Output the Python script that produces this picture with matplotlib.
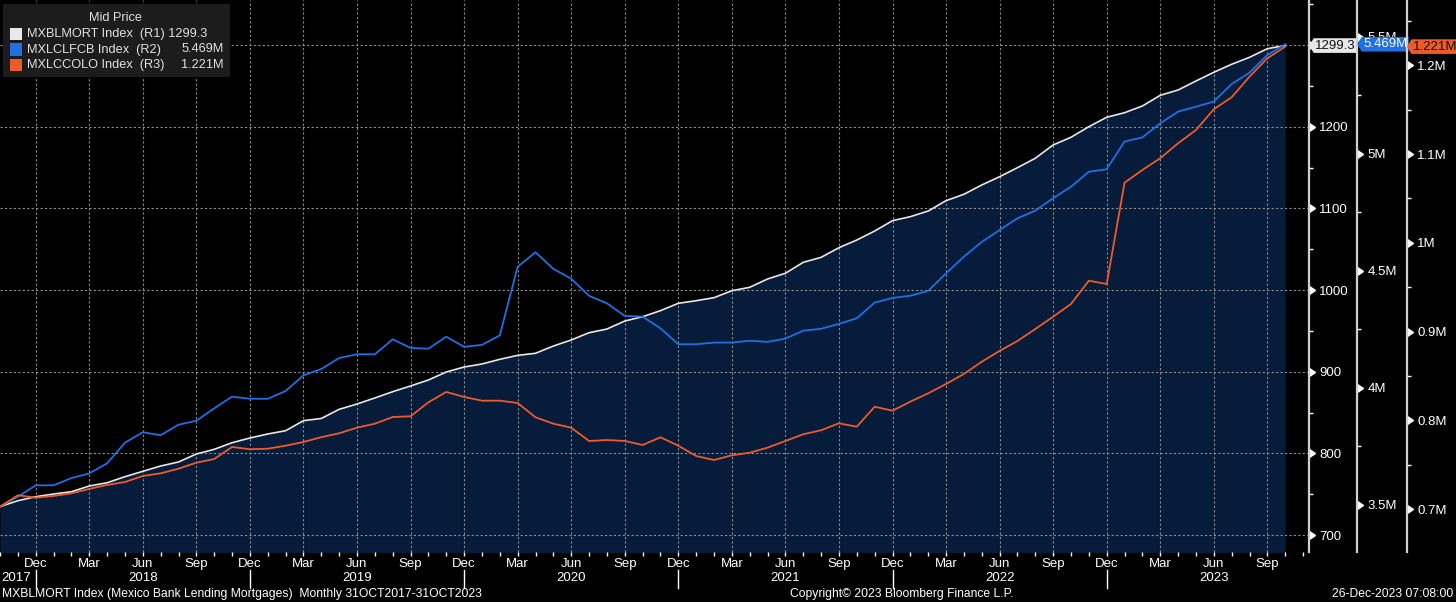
import matplotlib
matplotlib.use("Agg")
import matplotlib.pyplot as plt
import matplotlib.transforms as mtransforms
from matplotlib.patches import Rectangle
from matplotlib.path import Path
import pandas as pd

# Bloomberg-style dark terminal look
BG, FILL, GRIDC = "#000000", "#061c3a", "#8c8c8c"
WHITE, BLUE, ORANGE = "#e8e8e8", "#1f6fe5", "#ef5a29"
FONT = ["Liberation Sans", "DejaVu Sans"]
FS = 9
plt.rcParams.update({"font.family": FONT, "font.size": FS,
                     "text.color": "white", "xtick.color": "white",
                     "ytick.color": "white"})

W, H = 1456, 602

# monthly, 31OCT2017 - 31OCT2023
months = pd.period_range("2017-10", "2023-10", freq="M")

# MXBLMORT Index (R1)
mort = [734.7, 742.0, 746.9, 750.2, 753.0, 760.0, 764.0, 771.4, 778.0, 784.5,
        789.4, 799.2, 804.9, 813.0, 818.8, 823.7, 827.7, 840.0, 842.7, 853.9,
        860.4, 867.8, 875.5, 882.5, 889.8, 899.6, 905.7, 909.4, 915.1, 920.0,
        922.5, 931.4, 938.8, 947.7, 952.2, 962.0, 967.3, 974.7, 983.7, 986.9,
        990.6, 999.1, 1003.3, 1013.5, 1020.5, 1033.9, 1040.0, 1051.8, 1061.2, 1072.2,
        1084.9, 1089.8, 1096.7, 1109.4, 1117.2, 1128.6, 1138.7, 1149.8, 1161.3, 1177.6,
        1187.0, 1200.0, 1211.5, 1217.1, 1225.3, 1238.4, 1244.9, 1255.9, 1266.6, 1276.4,
        1284.9, 1295.5, 1299.3]

# MXLCLFCB Index (R2), millions
clfcb = [3.493, 3.535, 3.584, 3.584, 3.615, 3.635, 3.678, 3.766, 3.811, 3.798,
         3.843, 3.860, 3.913, 3.963, 3.954, 3.954, 3.987, 4.054, 4.081, 4.128,
         4.144, 4.144, 4.208, 4.171, 4.168, 4.219, 4.176, 4.184, 4.225, 4.518,
         4.580, 4.509, 4.467, 4.394, 4.362, 4.308, 4.305, 4.255, 4.187, 4.187,
         4.194, 4.194, 4.202, 4.197, 4.211, 4.245, 4.253, 4.274, 4.298, 4.365,
         4.385, 4.394, 4.415, 4.490, 4.561, 4.624, 4.675, 4.725, 4.758, 4.811,
         4.860, 4.924, 4.935, 5.053, 5.071, 5.131, 5.181, 5.202, 5.224, 5.299,
         5.347, 5.423, 5.469]

# MXLCCOLO Index (R3), millions
ccolo = [0.7029, 0.7158, 0.7131, 0.7150, 0.7180, 0.7229, 0.7274, 0.7307, 0.7375, 0.7405,
         0.7457, 0.7525, 0.7566, 0.7702, 0.7676, 0.7682, 0.7716, 0.7758, 0.7812, 0.7856,
         0.7919, 0.7964, 0.8039, 0.8047, 0.8205, 0.8321, 0.8265, 0.8223, 0.8223, 0.8197,
         0.8036, 0.7964, 0.7919, 0.7769, 0.7780, 0.7769, 0.7724, 0.7811, 0.7716, 0.7600,
         0.7555, 0.7608, 0.7637, 0.7694, 0.7769, 0.7845, 0.7890, 0.7968, 0.7930, 0.8155,
         0.8110, 0.8212, 0.8306, 0.8411, 0.8524, 0.8662, 0.8783, 0.8895, 0.9030, 0.9169,
         0.9312, 0.9574, 0.9537, 1.0678, 1.0821, 1.0953, 1.1122, 1.1271, 1.1505, 1.1640,
         1.1872, 1.2079, 1.221]

names = ["MXBLMORT Index", "MXLCLFCB Index", "MXLCCOLO Index"]
last_labels = ["1299.3", "5.469M", "1.221M"]

r1_major = [700, 800, 900, 1000, 1100, 1200, 1300]
r1_minor = [750, 850, 950, 1050, 1150, 1250, 1350]
r2_major = [3.5, 4.0, 4.5, 5.0, 5.5]
r2_minor = [3.75, 4.25, 4.75, 5.25]
r3_major = [0.7, 0.8, 0.9, 1.0, 1.1, 1.2]
r3_minor = [0.75, 0.85, 0.95, 1.05, 1.15, 1.25]

footer_left = "MXBLMORT Index (Mexico Bank Lending Mortgages)  Monthly 31OCT2017-31OCT2023"
footer_mid = "Copyright\u00a9 2023 Bloomberg Finance L.P."
footer_right = "26-Dec-2023 07:08:00"


def tag_box(x0, y0, width, height, mutation_size):
    """Value tag with a pointed left edge."""
    pad = mutation_size * 0.1
    x0, y0 = x0 - pad, y0 - pad
    x1, y1 = x0 + width + 2 * pad, y0 + height + 2 * pad
    tip = (y1 - y0) * 0.3
    return Path([(x0, y0), (x1, y0), (x1, y1), (x0, y1),
                 (x0 - tip, (y0 + y1) / 2), (x0, y0)], closed=True)


def style_right(axis, spine_pos, major, minor, fmt, lim):
    axis.set_ylim(*lim)
    for s in ("left", "top", "bottom"):
        axis.spines[s].set_visible(False)
    axis.spines["right"].set_position(("axes", spine_pos))
    axis.spines["right"].set_color("#d0d0d0")
    axis.spines["right"].set_linewidth(1.6)
    axis.yaxis.set_ticks_position("right")
    axis.set_yticks(major)
    axis.set_yticklabels([fmt(v) for v in major])
    axis.set_yticks(minor, minor=True)
    axis.tick_params(axis="y", which="major", length=0, pad=7.5, labelsize=FS + 0.5)
    axis.tick_params(axis="y", which="minor", length=3, width=1, color="white",
                     direction="out")
    tr = mtransforms.blended_transform_factory(axis.transAxes, axis.transData)
    axis.plot([spine_pos] * len(major), major, ls="", marker=9, ms=6,
              color="white", transform=tr, clip_on=False)


def add_tag(axis, spine_pos, value, text, fc, tc):
    axis.annotate(text, xy=(spine_pos, value), xycoords=("axes fraction", "data"),
                  xytext=(6, 0), textcoords="offset pixels", ha="left", va="center",
                  color=tc, fontsize=FS + 0.5, zorder=10, annotation_clip=False,
                  bbox=dict(boxstyle=tag_box, fc=fc, ec="none"))


x = list(range(len(months)))

fig = plt.figure(figsize=(W / 100, H / 100), dpi=100, facecolor=BG)
ax = fig.add_axes([0, 50 / H, 1309 / W, 552 / H])
ax.set_facecolor(BG)
ax.set_xlim(0, 1309 / 17.85)

r1_lim = (679.2, 1355.1)
ax.fill_between(x, mort, r1_lim[0] - 50, color=FILL, lw=0)
ax.plot(x, mort, color=WHITE, lw=1.2, zorder=3)

ax2 = ax.twinx()
ax2.plot(x, clfcb, color=BLUE, lw=1.3, zorder=3)
ax3 = ax.twinx()
ax3.plot(x, ccolo, color=ORANGE, lw=1.3, zorder=3)

style_right(ax, 1.0, r1_major, r1_minor, lambda v: f"{v:d}", r1_lim)
style_right(ax2, 1357 / 1309, r2_major, r2_minor, lambda v: f"{v:g}M", (3.2991, 5.658))
style_right(ax3, 1406.7 / 1309, r3_major, r3_minor, lambda v: f"{v:g}M", (0.6519, 1.2735))

# bottom axis: monthly minor ticks, quarterly labelled ticks + grid
ax.spines["bottom"].set_color("white")
ax.spines["bottom"].set_linewidth(1.2)
quarter = [i for i, m in enumerate(months) if m.month in (3, 6, 9, 12)]
ax.set_xticks(quarter)
ax.set_xticklabels([months[i].strftime("%b") for i in quarter])
ax.set_xticks(range(0, 74), minor=True)
ax.tick_params(axis="x", which="both", length=3, width=1, color="white",
               direction="out", pad=1.5, labelsize=FS + 0.5)
ax.grid(True, which="major", color=GRIDC, ls=(0, (2, 2)), lw=0.8)

xtr = mtransforms.blended_transform_factory(ax.transData, ax.transAxes)
ytxt = -26 / 552
for i, m in enumerate(months):
    if m.month == 6:
        ax.text(i, ytxt, str(m.year), transform=xtr, ha="center", va="center",
                fontsize=FS + 0.5)
    if m.month == 12:
        ax.plot([i, i], [-18 / 552, -36 / 552], color="white", lw=1,
                transform=xtr, clip_on=False)
ax.text(0.1, ytxt, str(months[0].year), transform=xtr, ha="left", va="center",
        fontsize=FS + 0.5)

# last value tags
add_tag(ax, 1.0, mort[-1], last_labels[0], WHITE, "#111111")
add_tag(ax2, 1357 / 1309, clfcb[-1], last_labels[1], BLUE, "white")
add_tag(ax3, 1406.7 / 1309, ccolo[-1], last_labels[2], ORANGE, "#111111")


# legend panel
def px(xp, yp):
    return xp / W, 1 - yp / H


fig.patches.append(Rectangle(px(3, 77), 227 / W, 73 / H, transform=fig.transFigure,
                             fc="#1c1c1c", ec="none", zorder=20))
fig.text(*px(116, 18), "Mid Price", ha="center", va="center", color="#e0e0e0",
         fontsize=FS + 0.2, zorder=21)
colors = [WHITE, BLUE, ORANGE]
rows = [34, 49.5, 65]
for k in range(3):
    fig.patches.append(Rectangle(px(10, rows[k] + 6), 12 / W, 12 / H,
                                 transform=fig.transFigure, fc=colors[k],
                                 ec="none", zorder=21))
    label = f"{names[k]}  (R{k + 1})"
    if k == 0:
        label += " " + last_labels[0]
    fig.text(*px(27, rows[k]), label, ha="left", va="center",
             color="#e0e0e0", fontsize=FS + 0.2, zorder=21)
    if k > 0:
        fig.text(*px(224, rows[k]), last_labels[k], ha="right", va="center",
                 color="#e0e0e0", fontsize=FS + 0.2, zorder=21)

# footer
fig.text(*px(2, 594), footer_left, ha="left", va="center", fontsize=FS - 0.3)
fig.text(*px(902, 594), footer_mid, ha="center", va="center", fontsize=FS - 0.3)
fig.text(*px(1453, 594), footer_right, ha="right", va="center", fontsize=FS - 0.3)

fig.savefig("out.png", dpi=100, facecolor=BG)
